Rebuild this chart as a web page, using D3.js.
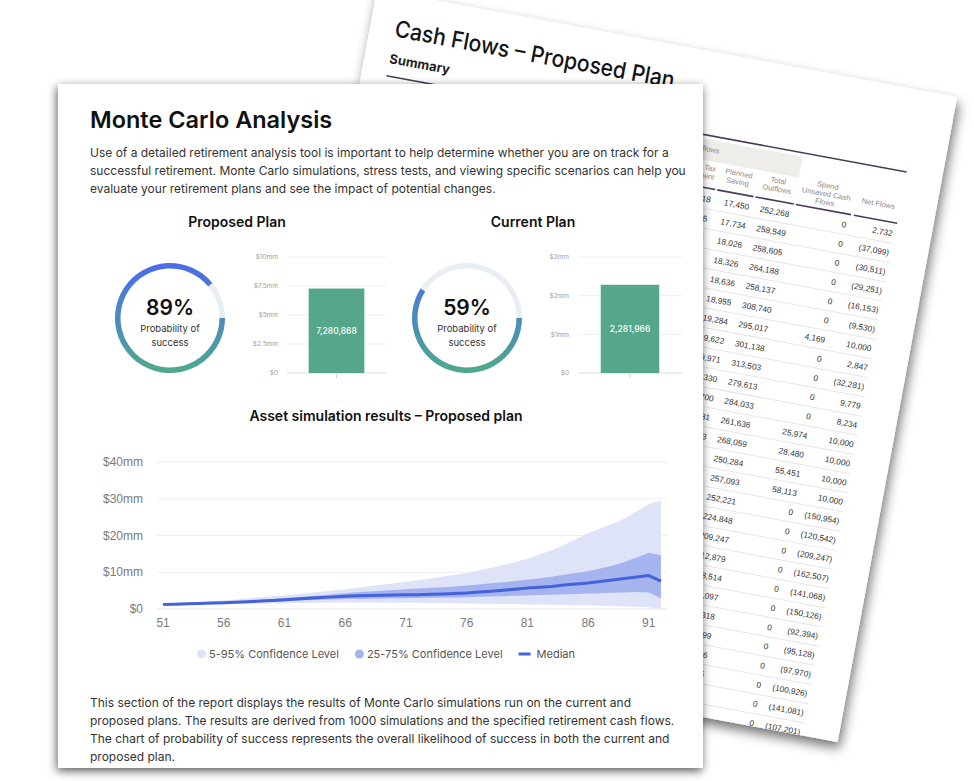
<!DOCTYPE html>
<html><head><meta charset="utf-8">
<script src="https://cdn.jsdelivr.net/npm/d3@7/dist/d3.min.js"></script>
<style>html,body{margin:0;padding:0;background:#fff;overflow:hidden}svg{display:block}</style>
</head><body>
<svg id="chart" width="974" height="781"></svg>
<script>
// ---------------- DATA ----------------
const ages = [51,52,53,54,55,56,57,58,59,60,61,62,63,64,65,66,67,68,69,70,71,72,73,74,75,76,77,78,79,80,81,82,83,84,85,86,87,88,89,90,91,92];
const p5  = [1.1,1.1,1.15,1.2,1.25,1.3,1.35,1.4,1.45,1.5, 1.55,1.6,1.65,1.7,1.75,1.8,1.8,1.8,1.8,1.75, 1.7,1.7,1.65,1.6,1.55,1.5,1.45,1.4,1.35,1.3, 1.25,1.2,1.15,1.1,1.05,1.0,0.9,0.8,0.7,0.6, 0.45,0.1];
const p25 = [1.15,1.2,1.3,1.4,1.5,1.6,1.7,1.8,1.9,2.0, 2.1,2.25,2.4,2.5,2.6,2.7,2.75,2.8,2.85,2.9, 2.95,3.0,3.05,3.1,3.15,3.2,3.3,3.4,3.5,3.6, 3.7,3.8,3.9,4.0,4.1,4.2,4.3,4.4,4.5,4.6, 4.5,2.9];
const p50 = [1.2,1.3,1.4,1.5,1.6,1.7,1.85,2.0,2.15,2.3, 2.5,2.7,2.9,3.1,3.3,3.5,3.6,3.7,3.75,3.8, 3.85,3.9,4.0,4.1,4.2,4.35,4.6,4.85,5.1,5.4, 5.7,5.9,6.1,6.5,6.8,7.1,7.5,7.9,8.3,8.7, 9.1,7.6];
const p75 = [1.25,1.4,1.5,1.65,1.8,1.95,2.1,2.3,2.5,2.7, 2.95,3.2,3.45,3.7,4.0,4.3,4.55,4.75,4.95,5.15, 5.35,5.55,5.75,5.95,6.15,6.4,6.7,7.0,7.3,7.6, 7.95,8.35,8.8,9.3,9.8,10.3,11.0,11.8,12.8,14.0, 15.3,14.6];
const p95 = [1.3,1.5,1.7,1.9,2.1,2.35,2.6,2.9,3.2,3.5, 3.7,4.0,4.35,4.7,5.05,5.4,5.8,6.2,6.6,7.0, 7.4,7.8,8.3,8.8,9.3,9.8,10.5,11.2,12.0,12.8, 13.7,14.8,16.0,17.4,19.0,20.6,21.9,23.1,24.6,26.5, 28.6,29.5];
const yTicks = [0,10,20,30,40];
const yTickLabels = ["$0","$10mm","$20mm","$30mm","$40mm"];
const xTicks = [51,56,61,66,71,76,81,86,91];
const legendLabels = ["5-95% Confidence Level","25-75% Confidence Level","Median"];

const plans = ["Proposed Plan","Current Plan"];
const successProb = [0.89, 0.59];
const medianEnding = [7280868, 2281966];
const barTicks = [[0,2.5,5,7.5,10],[0,1,2,3]];
const barTickLabels = [["$0","$2.5mm","$5mm","$7.5mm","$10mm"],["$0","$1mm","$2mm","$3mm"]];

const pageTitle = "Monte Carlo Analysis";
const intro = ["Use of a detailed retirement analysis tool is important to help determine whether you are on track for a",
  "successful retirement. Monte Carlo simulations, stress tests, and viewing specific scenarios can help you",
  "evaluate your retirement plans and see the impact of potential changes."];
const chartTitle = "Asset simulation results – Proposed plan";
const outro = ["This section of the report displays the results of Monte Carlo simulations run on the current and",
  "proposed plans. The results are derived from 1000 simulations and the specified retirement cash flows.",
  "The chart of probability of success represents the overall likelihood of success in both the current and",
  "proposed plan."];

// back page table
const backTitle = "Cash Flows – Proposed Plan";
const tableHeads = [["Tax","Payment"],["Planned","Saving"],["Total","Outflows"],["Spend","Unsaved Cash","Flows"],["Net Flows"]];
const taxPayment = ["6,418","6,545","6,674","6,806","6,940","7,077","7,216","7,358","7,503","7,651","7,802","7,955","8,113","8,273","8,436","","","","","","","","","","","",""];
const plannedSaving = ["17,450","17,734","18,026","18,326","18,636","18,955","19,284","19,622","19,971","20,330","20,700","21,081","21,473","21,881","22,301","","","","","","","","","","","",""];
const totalOutflows = ["252,268","258,549","258,605","264,188","258,137","308,740","295,017","301,138","313,503","279,613","284,033","261,636","268,059","250,284","257,093","252,221","224,848","209,247","212,879","218,514","217,097","216,318","215,499","214,876","213,505","212,441","211,203"];
const spendUnsaved = ["0","0","0","0","0","0","4,169","0","0","0","0","25,974","28,480","55,451","58,113","0","0","0","0","0","0","0","0","0","0","0","0"];
const netFlows = ["2,732","(37,099)","(30,511)","(29,251)","(16,153)","(9,530)","10,000","2,847","(32,281)","9,779","8,234","10,000","10,000","10,000","10,000","(150,954)","(120,542)","(209,247)","(162,507)","(141,068)","(150,126)","(92,394)","(95,128)","(97,970)","(100,926)","(141,081)","(107,201)"];

// ---------------- DRAW ----------------
const F = "Inter, 'Noto Sans', sans-serif";
const FA = "'Liberation Sans', Arial, sans-serif";
const svg = d3.select('#chart');
const defs = svg.append('defs');
const fb = defs.append('filter').attr('id','shBack').attr('x','-20%').attr('y','-20%').attr('width','140%').attr('height','140%');
fb.append('feDropShadow').attr('dx',3).attr('dy',6).attr('stdDeviation',6).attr('flood-color','#000').attr('flood-opacity',0.55);
const ff = defs.append('filter').attr('id','shFront').attr('x','-10%').attr('y','-10%').attr('width','120%').attr('height','120%');
ff.append('feDropShadow').attr('dx',-1).attr('dy',3).attr('stdDeviation',5).attr('flood-color','#000').attr('flood-opacity',0.65);

// ---- back page ----
const PW = 590, PH = 656;
const back = svg.append('g').attr('transform','translate(377,-10.5) rotate(10.5)');
back.append('rect').attr('width',PW).attr('height',PH).attr('fill','#fff').attr('filter','url(#shBack)');
defs.append('clipPath').attr('id','backClip').append('rect').attr('width',PW).attr('height',PH);
const bp = back.append('g').attr('clip-path','url(#backClip)');
bp.append('text').attr('x',25).attr('y',43).attr('font-family',F).attr('font-size',23).attr('font-weight',500)
  .attr('textLength',284).attr('lengthAdjust','spacingAndGlyphs')
  .attr('fill','#141414').text(backTitle);
bp.append('text').attr('x',25).attr('y',70).attr('font-family',F).attr('font-size',13).attr('font-weight',700)
  .attr('fill','#1e1e1e').text('Summary');
bp.append('line').attr('x1',25).attr('x2',554).attr('y1',83).attr('y2',83).attr('stroke','#4b3c58').attr('stroke-width',1.6);
bp.append('rect').attr('x',332).attr('y',87).attr('width',117).attr('height',21).attr('fill','#efedea');
bp.append('text').attr('x',337).attr('y',99).attr('font-family',FA).attr('font-size',7.5).attr('fill','#8a8a8a').text('Outflows');

const colDefs = [
  {vals:taxPayment, x0:325, x1:369, anchor:'end'},
  {vals:plannedSaving, x0:371, x1:408},
  {vals:totalOutflows, x0:410, x1:449},
  {vals:spendUnsaved, x0:451, x1:507},
  {vals:netFlows, x0:510, x1:554}
];
const nRows = totalOutflows.length;
const rowScale = d3.scaleBand().domain(d3.range(nRows)).range([136.25, 136.25 + nRows*19.5]);
bp.selectAll('line.sep').data(d3.range(nRows)).join('line').attr('class','sep')
  .attr('x1',325).attr('x2',554)
  .attr('y1',i=>rowScale(i)+rowScale.bandwidth()).attr('y2',i=>rowScale(i)+rowScale.bandwidth())
  .attr('stroke','#e6e6e6').attr('stroke-width',1);
colDefs.forEach((c,ci)=>{
  bp.append('line').attr('x1',c.x0).attr('x2',c.x1).attr('y1',135).attr('y2',135).attr('stroke','#4b3c58').attr('stroke-width',1.6);
  const head = tableHeads[ci];
  const hx = c.anchor==='end' ? c.x1-3 : (c.x0+c.x1)/2;
  const lh = 8.5;
  head.forEach((h,hi)=>{
    bp.append('text').attr('x',hx).attr('y',119 + (hi-(head.length-1)/2)*lh).attr('dy','0.35em')
      .attr('text-anchor',c.anchor||'middle').attr('font-family',FA).attr('font-size',7.5).attr('fill','#8a8a8a').text(h);
  });
  bp.selectAll(null).data(c.vals).join('text')
    .attr('x',c.x1-2.5).attr('y',(d,i)=>rowScale(i)+rowScale.bandwidth()/2).attr('dy','0.35em')
    .attr('text-anchor','end').attr('font-family',FA).attr('font-size',8.3).attr('fill','#333').text(d=>d);
});

// ---- front page ----
const front = svg.append('g');
front.append('rect').attr('x',58).attr('y',84).attr('width',645).attr('height',684).attr('fill','#fff').attr('filter','url(#shFront)');
front.append('text').attr('x',90).attr('y',128).attr('font-family',F).attr('font-size',23.5).attr('font-weight',600)
  .attr('fill','#111').text(pageTitle);
front.selectAll(null).data(intro).join('text').attr('x',90).attr('y',(d,i)=>157+i*18)
  .attr('font-family',F).attr('font-size',12).attr('fill','#333').text(d=>d);

// gauges + bars
const gaugeCx = [170, 467];
const headCx = [237, 533];
const barRange = [[287,386],[578,682]];
const barColor = '#55a68b';
plans.forEach((p,i)=>{
  front.append('text').attr('x',headCx[i]).attr('y',222).attr('dy','0.35em').attr('text-anchor','middle')
    .attr('font-family',F).attr('font-size',14).attr('font-weight',600).attr('fill','#111').text(p);
  const g = front.append('g').attr('transform',`translate(${gaugeCx[i]},318)`);
  const grad = defs.append('linearGradient').attr('id','gg'+i).attr('gradientUnits','userSpaceOnUse')
    .attr('x1',0).attr('x2',0).attr('y1',-55).attr('y2',55);
  grad.append('stop').attr('offset',0).attr('stop-color','#4d6be9');
  grad.append('stop').attr('offset',0.5).attr('stop-color','#4b8bbd');
  grad.append('stop').attr('offset',1).attr('stop-color','#4fa98a');
  const track = d3.arc().innerRadius(49.5).outerRadius(55).startAngle(0).endAngle(2*Math.PI);
  g.append('path').attr('d',track()).attr('fill','#e9edf4');
  const val = d3.arc().innerRadius(49.5).outerRadius(55).startAngle(Math.PI/2).endAngle(Math.PI/2 + successProb[i]*2*Math.PI);
  g.append('path').attr('d',val()).attr('fill',`url(#gg${i})`);
  g.append('text').attr('y',-10).attr('dy','0.35em').attr('text-anchor','middle').attr('font-family',F).attr('font-size',21)
    .attr('font-weight',600).attr('fill','#111').text(d3.format('.0%')(successProb[i]));
  g.append('text').attr('y',11).attr('dy','0.35em').attr('text-anchor','middle').attr('font-family',F).attr('font-size',9.5)
    .attr('fill','#333').text('Probability of');
  g.append('text').attr('y',25).attr('dy','0.35em').attr('text-anchor','middle').attr('font-family',F).attr('font-size',9.5)
    .attr('fill','#333').text('success');

  const ticks = barTicks[i];
  const by = d3.scaleLinear().domain([0, d3.max(ticks)]).range([373, 257]);
  const bx = d3.scaleBand().domain([p]).range(barRange[i]).padding(0.28);
  const bg = front.append('g');
  bg.selectAll(null).data(ticks).join('line').attr('x1',barRange[i][0]).attr('x2',barRange[i][1])
    .attr('y1',d=>by(d)).attr('y2',d=>by(d)).attr('stroke',d=>d===0?'#d6dcea':'#eceff4').attr('stroke-width',1);
  bg.selectAll(null).data(ticks).join('text').attr('x',barRange[i][0]-9).attr('y',d=>by(d)).attr('dy','0.35em')
    .attr('text-anchor','end').attr('font-family',F).attr('font-size',6.5).attr('fill','#9c9c9c')
    .text((d,k)=>barTickLabels[i][k]);
  bg.append('rect').attr('x',bx(p)).attr('width',bx.bandwidth()).attr('y',by(medianEnding[i]/1e6))
    .attr('height',by(0)-by(medianEnding[i]/1e6)).attr('fill',barColor);
  bg.append('line').attr('x1',bx(p)+bx.bandwidth()/2).attr('x2',bx(p)+bx.bandwidth()/2).attr('y1',374).attr('y2',378)
    .attr('stroke','#c9cfdb').attr('stroke-width',1);
  bg.append('text').attr('x',bx(p)+bx.bandwidth()/2).attr('y',(by(0)+by(medianEnding[i]/1e6))/2).attr('dy','0.35em')
    .attr('text-anchor','middle').attr('font-family',F).attr('font-size',8.5).attr('font-weight',500).attr('fill','#fff')
    .text(d3.format(',')(medianEnding[i]));
});

// main chart
front.append('text').attr('x',386).attr('y',416).attr('dy','0.35em').attr('text-anchor','middle')
  .attr('font-family',F).attr('font-size',14).attr('font-weight',600).attr('fill','#111').text(chartTitle);
const x = d3.scaleLinear().domain([50.5, 92.5]).range([157, 667]);
const y = d3.scaleLinear().domain([0, 40]).range([609, 462]);
const mc = front.append('g');
mc.selectAll(null).data(yTicks).join('line').attr('x1',157).attr('x2',667).attr('y1',d=>y(d)).attr('y2',d=>y(d))
  .attr('stroke',d=>d===0?'#dde3ee':'#eceef3').attr('stroke-width',1.2);
mc.selectAll(null).data(yTicks).join('text').attr('x',143).attr('y',d=>y(d)).attr('dy','0.35em').attr('text-anchor','end')
  .attr('font-family',FA).attr('font-size',12).attr('fill','#7a7a7a').text((d,i)=>yTickLabels[i]);
mc.selectAll(null).data(xTicks).join('text').attr('x',d=>x(d)).attr('y',623).attr('dy','0.35em').attr('text-anchor','middle')
  .attr('font-family',FA).attr('font-size',12).attr('fill','#7a7a7a').text(d=>d);
const idx = d3.range(ages.length);
mc.append('path').datum(idx).attr('fill','#dee3f8')
  .attr('d',d3.area().x(i=>x(ages[i])).y0(i=>y(p5[i])).y1(i=>y(p95[i])));
mc.append('path').datum(idx).attr('fill','#a5b3ef')
  .attr('d',d3.area().x(i=>x(ages[i])).y0(i=>y(p25[i])).y1(i=>y(p75[i])));
mc.append('path').datum(idx).attr('fill','none').attr('stroke','#4462da').attr('stroke-width',3).attr('stroke-linejoin','round')
  .attr('d',d3.line().x(i=>x(ages[i])).y(i=>y(p50[i])));

// legend
const leg = front.append('g');
const legColors = ['#dee3f8','#a5b3ef','#4462da'];
const items = [];
legendLabels.forEach((l,i)=>{
  const it = leg.append('g');
  if (i<2) it.append('circle').attr('cx',4.5).attr('cy',0).attr('r',4.5).attr('fill',legColors[i]);
  else it.append('line').attr('x1',0).attr('x2',12).attr('y1',0).attr('y2',0).attr('stroke',legColors[i]).attr('stroke-width',3);
  const t = it.append('text').attr('x',i<2?12:18).attr('dy','0.35em').attr('font-family',F).attr('font-size',11).attr('fill','#555').text(l);
  const w = (i<2?12:18) + t.node().getComputedTextLength();
  items.push({it, w});
});
const gap = 16;
const total = d3.sum(items, d=>d.w) + gap*(items.length-1);
let cur = 386 - total/2;
items.forEach(d=>{ d.it.attr('transform',`translate(${cur},654)`); cur += d.w + gap; });

front.selectAll(null).data(outro).join('text').attr('x',90).attr('y',(d,i)=>707+i*18)
  .attr('font-family',F).attr('font-size',12).attr('fill','#333').text(d=>d);
</script>
</body></html>
